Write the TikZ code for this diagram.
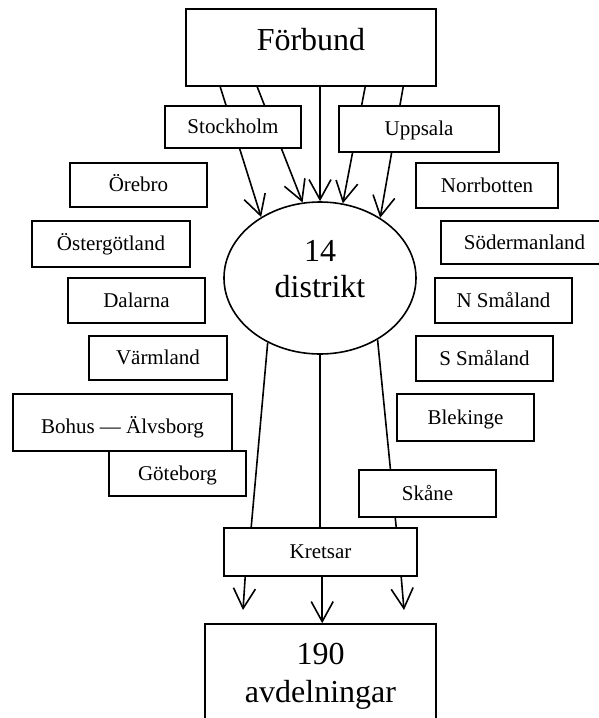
\documentclass[tikz,border=0pt]{standalone}
\usepackage{fontspec}
\setmainfont{Liberation Serif}
\usetikzlibrary{arrows.meta,shapes.geometric}
\pgfdeclarelayer{bg}
\pgfsetlayers{bg,main}

\tikzset{
  outline/.style={draw=black, line width=1.6pt, fill=white, inner sep=0pt},
  unit/.style={outline, rectangle, font=\fontsize{21}{25}\selectfont,
               text height=13.9pt, text depth=0pt},
  bigunit/.style={outline, rectangle, align=center},
  link/.style={line width=1.6pt},
  flow/.style={link, -{Straight Barb[length=20pt,width=22pt]}}
}

\begin{document}
\begin{tikzpicture}[x=1pt,y=-1pt]
\useasboundingbox (0,0) rectangle (599,718);
\clip (0,0) rectangle (599,718);

% top level
\node[bigunit, minimum width=250pt, minimum height=77pt,
      font=\fontsize{32}{38}\selectfont, text height=21pt, text depth=14.6pt]
      (forbund) at (311,47.5) {Förbund};

% districts feeding in
\node[unit, minimum width=136pt, minimum height=42pt] (stockholm) at (233,127) {Stockholm};
\node[unit, minimum width=160pt, minimum height=46pt] (uppsala) at (419,129) {Uppsala};
\node[unit, minimum width=137pt, minimum height=44pt] (orebro) at (138.5,185) {Örebro};
\node[unit, minimum width=142pt, minimum height=45pt] (norrbotten) at (487,185.5) {Norrbotten};
\node[unit, minimum width=158pt, minimum height=46pt] (ostergotland) at (111,244) {Östergötland};
\node[unit, minimum width=167pt, minimum height=43pt] (sodermanland) at (524.5,242.5) {Södermanland};
\node[unit, minimum width=137pt, minimum height=45pt] (dalarna) at (136.5,300.5) {Dalarna};
\node[unit, minimum width=137pt, minimum height=45pt] (nsmaland) at (503.5,300.5) {N Småland};
\node[unit, minimum width=138pt, minimum height=44pt] (varmland) at (158,358) {Värmland};
\node[unit, minimum width=137pt, minimum height=45pt] (ssmaland) at (484.5,358.5) {S Småland};
\node[unit, minimum width=219pt, minimum height=57pt, text height=21pt] (bohus) at (122.5,422.5) {Bohus — Älvsborg};
\node[unit, minimum width=137pt, minimum height=45pt] (goteborg) at (177.5,473.5) {Göteborg};
\node[unit, minimum width=137pt, minimum height=47pt] (blekinge) at (465.5,417.5) {Blekinge};
\node[unit, minimum width=137pt, minimum height=47pt] (skane) at (427.5,493.5) {Skåne};

% district hub
\node[outline, ellipse, minimum width=192pt, minimum height=152pt, align=center,
      font=\fontsize{32}{36}\selectfont, text height=57pt, text depth=19pt]
      (distrikt) at (320,278) {14\\distrikt};

% circuits and units
\node[unit, minimum width=193pt, minimum height=48pt] (kretsar) at (320.5,552) {Kretsar};
\node[bigunit, minimum width=231pt, minimum height=106pt,
      font=\fontsize{32}{38}\selectfont, text height=59pt, text depth=9pt]
      (avd) at (320.5,677) {190\\avdelningar};

\coordinate (k1) at (243,610);
\coordinate (k3) at (404,610);

\begin{pgfonlayer}{bg}
  % from the federation down to the districts
  \draw[flow] ([xshift=35pt]forbund.south west) -- (distrikt.134.5);
  \draw[flow] ([xshift=72pt]forbund.south west) -- (distrikt.103.7);
  \draw[flow] (distrikt.north |- forbund.south) -- (distrikt.north);
  \draw[flow] ([xshift=180pt]forbund.south west) -- (distrikt.73.9);
  \draw[flow] ([xshift=218pt]forbund.south west) -- (distrikt.45.5);
  % from the districts to the circuits
  \draw[link] (distrikt.231) -- ([xshift=28pt]kretsar.north west);
  \draw[link] (distrikt.south) -- (distrikt.south |- kretsar.north);
  \draw[link] (distrikt.313) -- ([xshift=173pt]kretsar.north west);
  % from the circuits to the units
  \draw[flow] ([xshift=22pt]kretsar.south west) -- (k1);
  \draw[flow] ([xshift=99pt]kretsar.south west) -- ([xshift=118pt]avd.north west);
  \draw[flow] ([xshift=178pt]kretsar.south west) -- (k3);
\end{pgfonlayer}
\end{tikzpicture}
\end{document}
